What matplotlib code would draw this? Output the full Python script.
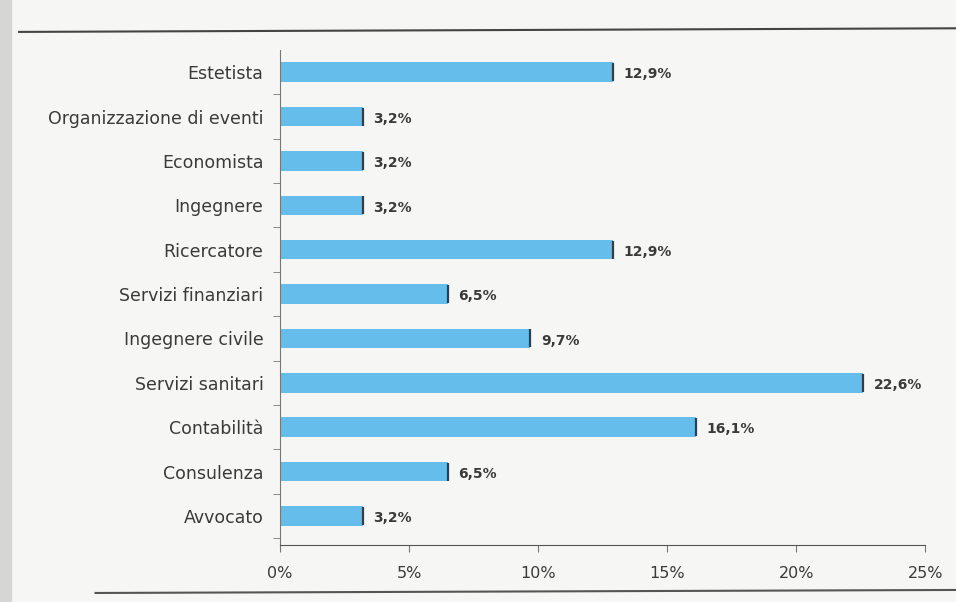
import matplotlib.pyplot as plt
from matplotlib.ticker import FuncFormatter

plt.rcParams['font.family'] = ['DejaVu Sans']

professions = ['Estetista', 'Organizzazione di eventi', 'Economista', 'Ingegnere',
               'Ricercatore', 'Servizi finanziari', 'Ingegnere civile',
               'Servizi sanitari', 'Contabilità', 'Consulenza', 'Avvocato']
shares = [12.9, 3.2, 3.2, 3.2, 12.9, 6.5, 9.7, 22.6, 16.1, 6.5, 3.2]
x_ticks = [0, 5, 10, 15, 20, 25]

bar_color = '#64bdea'
edge_color = '#2f3f4f'
text_color = '#3a3a3a'


def pct(v):
    return f'{v:.1f}%'.replace('.', ',')


def main():
    fig = plt.figure(figsize=(9.56, 6.02), dpi=100)
    fig.patch.set_facecolor('#f6f6f4')
    ax = fig.add_axes([0.293, 0.095, 0.675, 0.822])
    ax.set_facecolor('#f6f6f4')

    # top row first
    ypos = list(range(len(professions)))[::-1]
    ax.barh(ypos, shares, height=0.44, color=bar_color, edgecolor='none', zorder=2)
    ax.plot(shares, ypos, linestyle='none', marker='|', markersize=13,
            markeredgewidth=1.6, color=edge_color, zorder=3)
    for v, y in zip(shares, ypos):
        ax.text(v + 0.4, y - 0.05, pct(v), va='center', ha='left',
                fontsize=10, fontweight='bold', color=text_color)

    ax.set_xlim(0, 25)
    ax.set_ylim(-0.65, len(professions) - 0.5)
    ax.set_xticks(x_ticks)
    ax.xaxis.set_major_formatter(FuncFormatter(lambda v, _: f'{v:.0f}%'))
    ax.set_yticks(ypos)
    ax.set_yticklabels(professions)
    ax.set_yticks([y + 0.5 for y in range(-1, len(professions) - 1)], minor=True)
    ax.tick_params(axis='y', which='major', length=0, pad=12, labelsize=12.5,
                   labelcolor=text_color)
    ax.tick_params(axis='y', which='minor', length=5, color='#777777')
    ax.tick_params(axis='x', length=5, pad=10, labelsize=11.5,
                   labelcolor=text_color, color='#777777')

    for side in ['top', 'right']:
        ax.spines[side].set_visible(False)
    ax.spines['left'].set_color('#777777')
    ax.spines['bottom'].set_color('#555555')

    # page frame lines and binding shadow
    fig.add_artist(plt.Rectangle((0, 0), 0.012, 1, transform=fig.transFigure,
                                 color='#d6d6d4', zorder=0))
    fig.add_artist(plt.Line2D([0.02, 1.0], [0.947, 0.953], color='#444444', lw=1.5))
    fig.add_artist(plt.Line2D([0.10, 1.0], [0.015, 0.02], color='#555555', lw=1.5))

    plt.savefig('out.png', dpi=100, facecolor=fig.get_facecolor())


if __name__ == "__main__":
    main()
